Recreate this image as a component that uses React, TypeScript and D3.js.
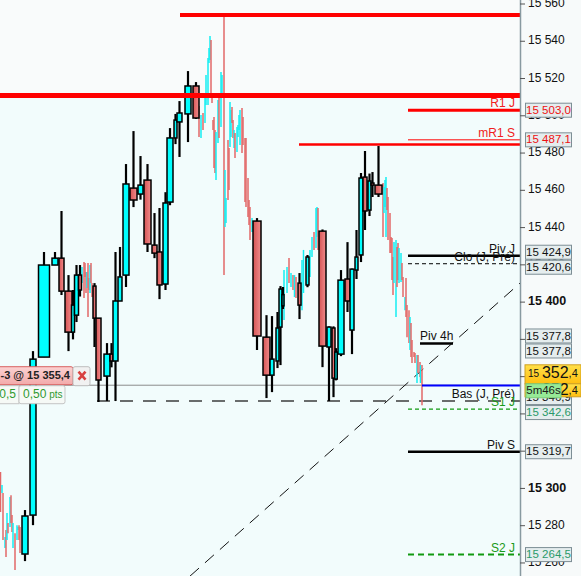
import React from "react";
import * as d3 from "d3";

// ---------- DATA ----------
// big candles: [time, duration, open, high, low, close]
const bigCandles: number[][] = [
  [5.0, 1.2, 15264.8, 15288.4, 15261.0, 15285.2],
  [6.6, 1.2, 15285.7, 15373.7, 15280.3, 15369.4],
  [8.8, 2.2, 15370.5, 15426.9, 15370.5, 15419.9],
  [11.0, 1.2, 15419.9, 15426.9, 15419.9, 15423.6],
  [12.3, 1.0, 15423.6, 15448.9, 15403.8, 15405.9],
  [13.7, 1.4, 15405.9, 15414.5, 15373.7, 15383.9],
  [14.6, 0.6, 15383.9, 15406.5, 15380.0, 15398.4],
  [15.3, 0.8, 15393.0, 15419.9, 15389.3, 15414.5],
  [16.0, 0.6, 15414.5, 15419.9, 15403.0, 15406.5],
  [18.9, 0.6, 15408.6, 15410.2, 15375.9, 15391.4],
  [19.7, 1.0, 15391.4, 15391.4, 15346.4, 15358.2],
  [21.4, 1.2, 15360.3, 15378.0, 15346.9, 15372.1],
  [22.3, 0.6, 15372.1, 15378.0, 15365.0, 15368.4],
  [23.1, 1.0, 15368.4, 15426.9, 15346.9, 15400.6],
  [24.0, 0.8, 15400.6, 15429.6, 15400.6, 15413.5],
  [25.2, 1.2, 15414.5, 15474.1, 15408.1, 15463.4],
  [26.7, 1.4, 15461.2, 15491.8, 15451.0, 15454.8],
  [28.1, 1.0, 15458.0, 15478.4, 15455.0, 15462.8],
  [29.5, 1.4, 15465.5, 15474.1, 15426.9, 15431.2],
  [30.9, 1.0, 15430.6, 15447.8, 15423.6, 15426.3],
  [31.9, 1.0, 15426.9, 15450.5, 15401.6, 15409.2],
  [33.1, 1.0, 15409.7, 15459.0, 15406.5, 15453.2],
  [34.0, 1.2, 15453.7, 15493.4, 15452.0, 15488.1],
  [35.1, 0.6, 15488.1, 15501.0, 15484.8, 15497.7],
  [35.9, 1.0, 15496.7, 15507.9, 15477.9, 15501.5],
  [37.6, 1.2, 15501.0, 15524.0, 15485.9, 15516.0],
  [39.2, 1.2, 15516.0, 15518.1, 15498.3, 15498.8],
  [51.4, 1.6, 15443.5, 15445.1, 15374.3, 15381.8],
  [53.3, 1.4, 15381.2, 15393.0, 15348.5, 15360.8],
  [54.4, 0.8, 15360.8, 15392.5, 15351.7, 15369.4],
  [55.5, 0.6, 15368.4, 15394.7, 15364.6, 15386.1],
  [56.1, 0.6, 15386.6, 15408.6, 15366.2, 15407.0],
  [56.6, 0.4, 15398.0, 15408.1, 15396.3, 15404.0],
  [59.9, 0.6, 15410.2, 15415.6, 15390.9, 15398.4],
  [61.5, 0.6, 15409.2, 15425.3, 15408.0, 15424.2],
  [64.5, 1.4, 15438.1, 15439.0, 15365.1, 15376.4],
  [65.8, 0.8, 15375.9, 15387.0, 15346.9, 15386.6],
  [66.7, 0.6, 15386.1, 15387.0, 15349.0, 15359.2],
  [67.2, 0.5, 15358.7, 15375.3, 15358.0, 15373.2],
  [68.2, 1.2, 15372.1, 15417.2, 15371.0, 15411.8],
  [69.5, 1.0, 15412.4, 15432.2, 15394.7, 15400.6],
  [70.4, 0.8, 15385.0, 15418.0, 15372.1, 15417.7],
  [71.3, 0.6, 15417.2, 15438.7, 15412.4, 15424.2],
  [72.2, 0.8, 15425.3, 15469.3, 15421.5, 15466.6],
  [73.0, 0.8, 15467.1, 15481.1, 15438.7, 15448.9],
  [73.9, 0.6, 15449.4, 15469.0, 15446.2, 15465.0],
  [74.5, 0.6, 15463.9, 15469.8, 15456.4, 15462.8],
  [75.7, 1.4, 15462.8, 15483.8, 15456.4, 15458.0],
];

// small (lower timeframe) bars: [time, high, low, direction(1 up / -1 down)]
const smallBars: number[][] = [
  [0.1, 15308.8, 15287.3, -1], [0.4, 15301.8, 15297.5, 1], [0.6, 15297.5, 15272.3, -1],
  [1.0, 15273.9, 15268.0, 1], [1.2, 15277.7, 15263.2, -1], [1.4, 15286.8, 15272.3, 1],
  [1.6, 15281.4, 15276.0, -1], [2.0, 15295.4, 15279.3, 1], [2.2, 15296.4, 15281.4, -1],
  [2.4, 15285.7, 15276.6, -1], [2.6, 15281.4, 15268.0, 1], [3.0, 15276.0, 15256.2, -1],
  [3.4, 15280.3, 15272.3, 1], [3.6, 15279.3, 15277.7, 1], [3.8, 15280.3, 15272.3, -1],
  [4.0, 15279.3, 15265.3, -1],
  [16.4, 15418.8, 15410.2, 1], [16.8, 15421.5, 15402.2, -1], [17.0, 15421.0, 15413.5, -1],
  [17.2, 15416.1, 15404.9, -1], [17.4, 15416.1, 15407.6, 1], [17.6, 15421.0, 15392.0, -1],
  [17.8, 15412.9, 15406.5, -1], [18.0, 15419.9, 15404.9, 1], [18.2, 15421.0, 15410.2, -1],
  [18.4, 15410.2, 15402.7, -1],
  [39.8, 15505.2, 15488.6, -1], [40.2, 15500.4, 15488.1, 1], [40.6, 15501.5, 15492.4, -1],
  [41.0, 15509.5, 15496.1, 1], [41.2, 15521.9, 15505.8, 1], [41.6, 15531.0, 15505.8, 1],
  [41.8, 15536.4, 15528.3, 1], [42.0, 15542.8, 15529.9, 1], [42.2, 15540.7, 15509.5, -1],
  [42.4, 15510.1, 15506.9, -1], [42.6, 15497.7, 15492.4, -1], [42.8, 15499.3, 15472.0, -1],
  [43.0, 15492.4, 15469.3, -1], [43.2, 15491.3, 15465.5, 1], [43.6, 15508.5, 15485.4, 1],
  [43.8, 15510.1, 15488.1, -1], [44.2, 15523.5, 15494.0, 1], [44.4, 15521.9, 15511.2, 1],
  [44.8, 15553.0, 15414.5, -1], [45.0, 15470.9, 15440.3, 1], [45.2, 15455.9, 15442.4, 1],
  [45.6, 15487.0, 15454.8, -1], [45.8, 15482.7, 15460.2, -1], [46.0, 15507.4, 15483.2, 1],
  [46.2, 15503.1, 15488.6, 1], [46.4, 15504.7, 15496.1, -1], [46.6, 15497.7, 15488.1, -1],
  [46.8, 15492.4, 15482.7, 1], [47.0, 15490.8, 15477.3, -1], [47.4, 15494.0, 15480.6, 1],
  [47.6, 15495.0, 15488.6, 1], [47.8, 15500.4, 15492.4, 1], [48.0, 15503.1, 15484.3, 1],
  [48.4, 15504.2, 15480.0, -1], [48.6, 15499.3, 15484.3, -1], [49.0, 15488.1, 15453.7, -1],
  [49.2, 15488.1, 15451.0, -1], [49.6, 15466.6, 15445.7, -1], [49.8, 15454.8, 15441.4, -1],
  [50.0, 15451.0, 15433.3, -1], [50.4, 15445.1, 15437.6, 1],
  [56.8, 15417.2, 15390.4, 1], [57.4, 15418.8, 15404.9, 1], [57.8, 15423.7, 15410.2, -1],
  [58.2, 15415.6, 15408.1, 1], [58.6, 15414.5, 15406.5, -1], [58.9, 15414.5, 15402.7, 1],
  [59.2, 15413.5, 15402.2, -1], [60.4, 15422.6, 15395.7, 1], [60.7, 15428.0, 15404.9, 1],
  [62.0, 15428.0, 15413.5, 1], [62.4, 15434.9, 15424.2, 1], [62.8, 15437.6, 15428.0, -1],
  [63.2, 15450.5, 15429.0, 1], [63.4, 15451.0, 15434.9, 1], [63.6, 15450.5, 15428.0, -1],
  [76.6, 15463.9, 15434.9, -1], [76.8, 15461.8, 15447.8, 1], [77.0, 15465.5, 15451.0, 1],
  [77.2, 15467.1, 15434.9, 1], [77.4, 15461.2, 15449.4, -1], [77.6, 15456.4, 15433.3, -1],
  [78.0, 15447.8, 15426.3, -1], [78.2, 15434.9, 15426.3, -1], [78.4, 15434.4, 15411.9, -1],
  [78.6, 15424.2, 15403.8, -1], [78.8, 15432.2, 15410.2, 1], [79.2, 15433.3, 15392.0, 1],
  [79.4, 15429.6, 15408.1, -1], [79.6, 15431.7, 15411.9, -1], [79.8, 15429.0, 15410.2, 1],
  [80.2, 15426.3, 15410.8, 1], [80.4, 15421.0, 15411.9, -1], [80.6, 15413.5, 15402.7, -1],
  [81.0, 15402.7, 15395.7, 1], [81.2, 15412.9, 15392.0, -1], [81.4, 15398.4, 15381.2, -1],
  [81.8, 15395.7, 15378.0, -1], [82.0, 15392.0, 15374.3, 1], [82.2, 15388.8, 15370.5, -1],
  [82.4, 15379.6, 15367.3, -1], [82.8, 15373.2, 15370.5, -1], [83.0, 15372.7, 15367.3, -1],
  [83.4, 15371.6, 15356.6, 1], [83.6, 15371.6, 15361.9, -1], [84.0, 15367.8, 15359.8, -1],
  [84.1, 15366.2, 15356.6, 1], [84.4, 15366.2, 15344.7, -1],
];

const yTicks = d3.range(15260, 15561, 20);
const boldTicks = [15400, 15300];

const levels = [
  { id: "lvlTop", name: "", value: 15554.1, t0: 36, t1: 104 },
  { id: "lvlRes", name: "", value: 15510.9, t0: 0, t1: 104 },
  { id: "r1j", name: "R1 J", value: 15503.0, t0: 81.6, t1: 104 },
  { id: "mr1s", name: "mR1 S", value: 15487.1, t0: 81.6, t1: 104 },
  { id: "lvlMid", name: "", value: 15484.6, t0: 59.8, t1: 104 },
  { id: "pivj", name: "Piv J", value: 15424.9, t0: 81.6, t1: 104 },
  { id: "cloj", name: "Clo (J, Pré)", value: 15420.6, t0: 81.6, t1: 104 },
  { id: "piv4h", name: "Piv 4h", value: 15377.8, t0: 84, t1: 90.6 },
  { id: "pos", name: "", value: 15355.4, t0: 0, t1: 104 },
  { id: "bid", name: "", value: 15355.2, t0: 84.4, t1: 104 },
  { id: "basj", name: "Bas (J, Pré)", value: 15346.9, t0: 19.4, t1: 104 },
  { id: "s1j", name: "S1 J", value: 15342.6, t0: 81.6, t1: 104 },
  { id: "pivs", name: "Piv S", value: 15319.7, t0: 81.6, t1: 104 },
  { id: "s2j", name: "S2 J", value: 15264.5, t0: 81.6, t1: 104 },
];

const trendLine = [
  { t: 38, p: 15252.95 },
  { t: 104, p: 15410.2 },
];

const priceTags = [
  { value: 15503.0, kind: "res" },
  { value: 15487.1, kind: "res" },
  { value: 15424.9, kind: "neutral" },
  { value: 15420.6, kind: "neutral" },
  { value: 15377.8, kind: "neutral" },
  { value: 15377.8, kind: "neutral" },
  { value: 15346.9, kind: "neutral" },
  { value: 15342.6, kind: "sup" },
  { value: 15319.7, kind: "neutral" },
  { value: 15264.5, kind: "sup" },
];

const lastPrice = 15352.4;
const countdown = "5m46s";
const positionText = "-3 @ 15 355,4";
const positionQty = "0,5";
const positionPts = "0,50";

// ---------- STYLES ----------
const FONT = "'Liberation Sans', Arial, sans-serif";
const levelStyles: Record<string, { stroke: string; w: number; dash?: string }> = {
  lvlTop: { stroke: "#ff0000", w: 4 },
  lvlRes: { stroke: "#ff0000", w: 5 },
  r1j: { stroke: "#ff0000", w: 3 },
  mr1s: { stroke: "#ff0000", w: 1 },
  lvlMid: { stroke: "#ff0000", w: 2.5 },
  pivj: { stroke: "#000", w: 2.5 },
  cloj: { stroke: "#000", w: 1, dash: "4,3" },
  piv4h: { stroke: "#000", w: 2.5 },
  pos: { stroke: "#8c8c8c", w: 1 },
  bid: { stroke: "#0000ff", w: 2 },
  basj: { stroke: "#3c3c3c", w: 1.5, dash: "13,10" },
  s1j: { stroke: "#119911", w: 1.2, dash: "4,3" },
  pivs: { stroke: "#000", w: 2.5 },
  s2j: { stroke: "#119911", w: 2, dash: "6,4" },
};
const labelColor: Record<string, string> = {
  r1j: "#f02020",
  mr1s: "#f02020",
  s1j: "#1a9a1a",
  s2j: "#1a9a1a",
};
const tagColor: Record<string, string> = { res: "#ee1111", neutral: "#111", sup: "#2a9a6a" };

const loc = d3.formatLocale({ decimal: ",", thousands: " ", grouping: [3], currency: ["", ""] });
const fmtTick = loc.format(",d");
const fmtTag = loc.format(",.1f");

function spread(vals: number[], gap: number): number[] {
  const idx = vals.map((v, i) => ({ v, i })).sort((a, b) => a.v - b.v);
  let groups = idx.map((it) => ({ m: [it], c: it.v }));
  let merged = true;
  while (merged) {
    merged = false;
    for (let k = 1; k < groups.length; k++) {
      const a = groups[k - 1], b = groups[k];
      if (b.c - (b.m.length * gap) / 2 < a.c + (a.m.length * gap) / 2) {
        const m = a.m.concat(b.m);
        groups.splice(k - 1, 2, { m, c: d3.mean(m, (q) => q.v) as number });
        merged = true;
        break;
      }
    }
  }
  const out: number[] = new Array(vals.length);
  groups.forEach((g) => {
    g.m.forEach((it, j) => {
      out[it.i] = g.c - (g.m.length * gap) / 2 + gap * (j + 0.5);
    });
  });
  return out;
}

export default function App() {
  const W = 581, H = 576;
  const x = d3.scaleLinear().domain([0, 104]).range([0, 520]);
  const y = d3.scaleLinear().domain([15560, 15280]).range([4, 525.7]);
  const axisX = x(104);
  const resY = y(15510.9);

  const line = d3.line<{ t: number; p: number }>().x((d) => x(d.t)).y((d) => y(d.p));

  const under = ["pos", "basj"];
  const tagYs = spread(priceTags.map((t) => y(t.value)), 15);
  const lastY = y(lastPrice);
  const posY = y(15355.4);

  const priceText = (yy: number) => (
    <text x={axisX + 8} y={yy} fontFamily={FONT} fill="#111" dominantBaseline="middle">
      <tspan fontSize={10}>15 </tspan>
      <tspan fontSize={16}>352</tspan>
      <tspan fontSize={11}>,4</tspan>
    </text>
  );

  return (
    <div style={{ position: "fixed", left: 0, top: 0 }}>
      <svg width={W} height={H} style={{ display: "block" }}>
        <defs>
          <linearGradient id="bear" x1="0" x2="1" y1="0" y2="0">
            <stop offset="0" stopColor="#d65454" />
            <stop offset="1" stopColor="#f08c8c" />
          </linearGradient>
          <linearGradient id="gold" x1="0" x2="0" y1="0" y2="1">
            <stop offset="0" stopColor="#ffe04a" />
            <stop offset="1" stopColor="#ffbf10" />
          </linearGradient>
          <linearGradient id="pink" x1="0" x2="0" y1="0" y2="1">
            <stop offset="0" stopColor="#fbd2d2" />
            <stop offset="1" stopColor="#f2aaaa" />
          </linearGradient>
        </defs>
        <rect x={0} y={0} width={W} height={H} fill="#f7fafa" />
        <rect x={0} y={0} width={axisX} height={resY} fill="#f9fbfb" />
        <rect x={0} y={resY} width={axisX} height={H - resY} fill="#f2fcfc" />

        {/* under lines */}
        {levels.filter((l) => under.includes(l.id)).map((l) => {
          const s = levelStyles[l.id];
          return (
            <line key={l.id} x1={x(l.t0)} x2={x(l.t1)} y1={y(l.value)} y2={y(l.value)}
              stroke={s.stroke} strokeWidth={s.w} strokeDasharray={s.dash} />
          );
        })}
        <path d={line(trendLine) || ""} stroke="#111" strokeWidth={1} strokeDasharray="12,8" fill="none" />

        {/* small bars */}
        {smallBars.map((b, i) => (
          <line key={"s" + i} x1={x(b[0])} x2={x(b[0])} y1={y(b[1])} y2={y(b[2])}
            stroke={b[3] > 0 ? "#14eef2" : "#e26868"} strokeWidth={1.5} />
        ))}

        {/* big candles */}
        {bigCandles.map((c, i) => {
          const [t, d, o, h, l, cl] = c;
          const up = cl >= o;
          const x0 = x(t - d / 2), x1 = x(t + d / 2);
          const top = y(Math.max(o, cl)), bot = y(Math.min(o, cl));
          return (
            <g key={"c" + i}>
              <line x1={x(t)} x2={x(t)} y1={y(h)} y2={y(l)} stroke="#000" strokeWidth={2.2} />
              <rect x={x0} y={top} width={Math.max(x1 - x0, 1)} height={Math.max(bot - top, 1.5)}
                fill={up ? "#00ffff" : "url(#bear)"} stroke="#000" strokeWidth={1.5} />
            </g>
          );
        })}

        {/* level lines */}
        {levels.filter((l) => !under.includes(l.id)).map((l) => {
          const s = levelStyles[l.id];
          return (
            <line key={l.id} x1={x(l.t0)} x2={x(l.t1)} y1={y(l.value)} y2={y(l.value)}
              stroke={s.stroke} strokeWidth={s.w} strokeDasharray={s.dash} />
          );
        })}
        {levels.filter((l) => l.name).map((l) => {
          const isLeft = l.id === "piv4h";
          return (
            <text key={"lb" + l.id} x={isLeft ? x(l.t0) : x(l.t1) - 5} y={y(l.value) - 3}
              textAnchor={isLeft ? "start" : "end"} fontFamily={FONT} fontSize={12}
              fill={labelColor[l.id] || "#111"}>{l.name}</text>
          );
        })}

        {/* axis */}
        <line x1={axisX + 0.5} x2={axisX + 0.5} y1={0} y2={H} stroke="#8899a0" strokeWidth={1.5} />
        {yTicks.map((v) => {
          const bold = boldTicks.includes(v);
          return (
            <g key={"t" + v}>
              <line x1={axisX} x2={axisX + 5} y1={y(v)} y2={y(v)} stroke="#555" />
              <text x={axisX + 8} y={y(v)} dominantBaseline="middle" fontFamily={FONT}
                fontSize={bold ? 12.5 : 12} fontWeight={bold ? "bold" : "normal"} fill="#111">
                {fmtTick(v)}
              </text>
            </g>
          );
        })}

        {/* price tags */}
        {priceTags.map((t, i) => (
          <g key={"pt" + i}>
            <rect x={axisX + 5.5} y={tagYs[i] - 7} width={46} height={14} fill="#e5edee" stroke="#7d8e95" />
            <text x={axisX + 28.5} y={tagYs[i] + 0.5} textAnchor="middle" dominantBaseline="middle"
              fontFamily={FONT} fontSize={11.5} fill={tagColor[t.kind]}>{fmtTag(t.value)}</text>
          </g>
        ))}

        {/* last price */}
        <rect x={axisX + 5} y={lastY - 26} width={56} height={19} fill="url(#gold)" stroke="#d0a020" />
        {priceText(lastY - 16.5)}
        <rect x={axisX + 5} y={lastY - 7} width={56} height={13} fill="url(#gold)" stroke="#d0a020" />
        {priceText(lastY)}
        <rect x={axisX + 6} y={lastY - 7} width={35} height={14} fill="#96ea96" stroke="#7acc7a" />
        <text x={axisX + 23.5} y={lastY + 0.5} textAnchor="middle" dominantBaseline="middle"
          fontFamily={FONT} fontSize={11.5} fill="#1a1a1a">{countdown}</text>

        {/* position widget */}
        <rect x={-3} y={posY - 18.5} width={76} height={18} fill="url(#pink)" stroke="#d86060" rx={2} />
        <text x={0.5} y={posY - 9} dominantBaseline="middle" fontFamily={FONT}
          fontSize={11} fontWeight={600} fill="#222">{positionText}</text>
        <rect x={73} y={posY - 18.5} width={17} height={19} fill="#f1f1f1" stroke="#bdbdbd" rx={2} />
        <path d={`M78.5,${posY - 13.5} L85.5,${posY - 5.5} M85.5,${posY - 13.5} L78.5,${posY - 5.5}`}
          stroke="#d84040" strokeWidth={2.6} />
        <rect x={-3} y={posY + 0.5} width={22} height={18} fill="#f6f9f6" stroke="#c5c5c5" />
        <rect x={19} y={posY + 0.5} width={46} height={18} fill="#f6f9f6" stroke="#c5c5c5" rx={2} />
        <text x={16} y={posY + 10} textAnchor="end" dominantBaseline="middle" fontFamily={FONT}
          fontSize={12} fill="#2f9a2f">{positionQty}</text>
        <text x={23} y={posY + 10} dominantBaseline="middle" fontFamily={FONT} fill="#2f9a2f">
          <tspan fontSize={12}>{positionPts}</tspan>
          <tspan fontSize={10}> pts</tspan>
        </text>
      </svg>
    </div>
  );
}
